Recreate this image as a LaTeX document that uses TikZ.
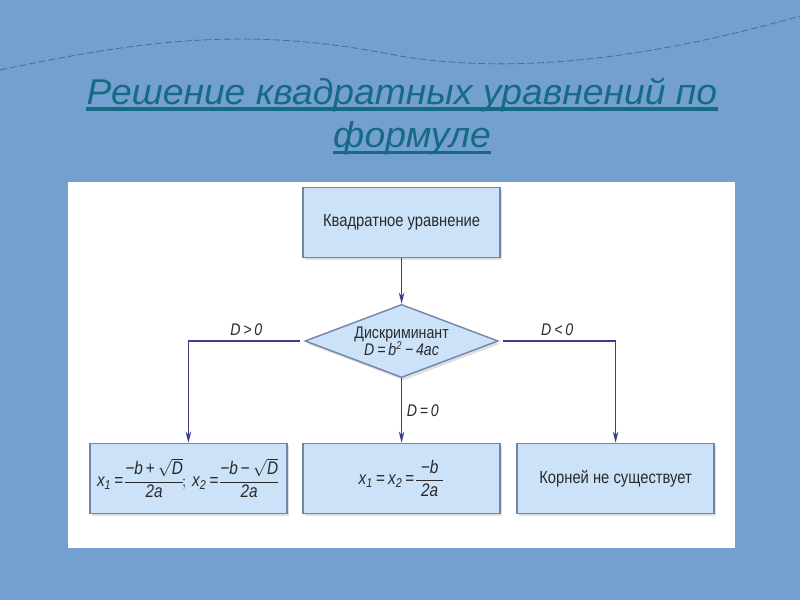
\documentclass[tikz,border=0pt]{standalone}
\usepackage{fontspec}
\usepackage{amsmath}
\usepackage{xcolor}
\usepackage{tikz}
\usetikzlibrary{shapes.geometric,shadows,arrows.meta}
\setmainfont{Liberation Sans}
\newfontfamily\narrowfont[FakeStretch=0.84]{Liberation Sans}
\newfontfamily\titlefont[FakeStretch=1.04]{Liberation Sans}
\definecolor{slidebg}{HTML}{74A0D0}
\definecolor{titlec}{HTML}{156A84}
\definecolor{wavec}{HTML}{2F5F7C}
\definecolor{boxfill}{HTML}{CCE2F8}
\definecolor{boxline}{HTML}{7484A8}
\definecolor{flowc}{HTML}{3C3C8C}
\definecolor{txt}{HTML}{2A2A2A}
\newcommand{\vr}[1]{\textit{#1}}
\newcommand{\op}[1]{\mbox{\,#1\,}}

\tikzset{
  flowbox/.style={rectangle, fill=boxfill, draw=boxline, line width=1pt,
    minimum width=4.925cm, minimum height=1.75cm, inner sep=1pt,
    font=\narrowfont\fontsize{12.5}{14}\selectfont, text=txt,
    drop shadow={shadow xshift=1.5pt, shadow yshift=-2pt, opacity=0.25}},
  decide/.style={diamond, fill=boxfill, draw=boxline, line width=1pt,
    minimum width=4.83cm, minimum height=1.83cm, inner sep=0pt, aspect=2.6,
    drop shadow={shadow xshift=1.5pt, shadow yshift=-2pt, opacity=0.25}},
  flow/.style={flowc, line width=0.8pt, -{Stealth[length=8pt, width=4pt]}},
  cond/.style={font=\narrowfont\fontsize{12}{13}\selectfont, text=txt},
  heading/.style={titlec, inner sep=0pt, font=\titlefont\itshape\fontsize{25.5}{30}\selectfont},
  headline/.style={titlec, line width=2.2pt}
}

\begin{document}
\begin{tikzpicture}
    % slide background
    \fill[slidebg] (0,0) rectangle (20,15);
    \useasboundingbox (0,0) rectangle (20,15);
    \draw[wavec, opacity=0.7, line width=0.6pt, dash pattern=on 5pt off 2pt] (0,13.25) .. controls (4,14.1) and (6.5,14.3) .. (10,13.6) .. controls (13,13.1) and (16.5,13.6) .. (20,14.6);

    % white panel
    \fill[white] (1.7,1.3) rectangle (18.375,10.45);

    % title
    \node[heading, anchor=base] (title1) at (10.05,12.38) {Решение квадратных уравнений по};
    \node[heading, anchor=base] (title2) at (10.3,11.3) {формуле};
    \draw[headline] ([yshift=-3pt]title1.base west) -- ([yshift=-3pt]title1.base east);
    \draw[headline] ([yshift=-3pt]title2.base west) -- ([yshift=-3pt]title2.base east);

    \node[flowbox] (quad) at (10.04,9.44) {Квадратное уравнение};
    \node[decide] (disc) at (10.04,6.475) {};
    \node[cond, align=center] (disclab) at (disc.center) {Дискриминант\\[-1pt] \vr{D\op{=}b\textsuperscript{2}\op{−}4ac}};
    \node[flowbox, font=\narrowfont\fontsize{13}{14}\selectfont] (twoRoots) at (4.71,3.04) {$\vr{x}_{\vr{1}}\op{=}\!\dfrac{\vr{−b}\op{+}\sqrt{\vr{D}}}{\vr{2a}}\!;\,\vr{x}_{\vr{2}}\op{=}\!\dfrac{\vr{−b}\op{−}\sqrt{\vr{D}}}{\vr{2a}}$};
    \node[flowbox, font=\narrowfont\fontsize{13}{14}\selectfont] (oneRoot) at (10.04,3.04) {$\vr{x}_{\vr{1}}\op{=}\vr{x}_{\vr{2}}\op{=}\!\dfrac{\vr{−b}}{\;\vr{2a}\;}$};
    \node[flowbox] (noRoots) at (15.39,3.04) {Корней не существует};

    \draw[flow] (quad) -- (disc);
    \draw[flow, shorten <=3pt] (disc.west) -| node[cond, pos=0.25, above] {\vr{D\op{>}0}} (twoRoots);
    \draw[flow, shorten <=3pt] (disc.east) -| node[cond, pos=0.25, above] {\vr{D\op{<}0}} (noRoots);
    \draw[flow] (disc) -- node[cond, midway, right] {\vr{D\op{=}0}} (oneRoot);
  \end{tikzpicture}
\end{document}
